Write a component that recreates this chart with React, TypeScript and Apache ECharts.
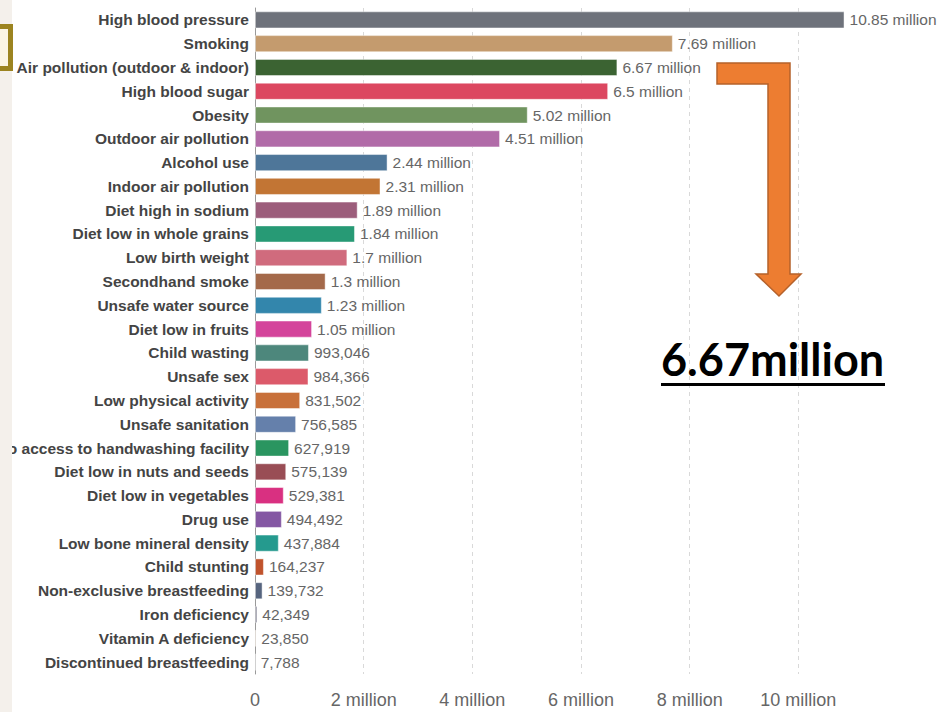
import React, { useEffect, useRef } from "react";
import * as echarts from "echarts";

const categories = [
  "High blood pressure",
  "Smoking",
  "Air pollution (outdoor & indoor)",
  "High blood sugar",
  "Obesity",
  "Outdoor air pollution",
  "Alcohol use",
  "Indoor air pollution",
  "Diet high in sodium",
  "Diet low in whole grains",
  "Low birth weight",
  "Secondhand smoke",
  "Unsafe water source",
  "Diet low in fruits",
  "Child wasting",
  "Unsafe sex",
  "Low physical activity",
  "Unsafe sanitation",
  "No access to handwashing facility",
  "Diet low in nuts and seeds",
  "Diet low in vegetables",
  "Drug use",
  "Low bone mineral density",
  "Child stunting",
  "Non-exclusive breastfeeding",
  "Iron deficiency",
  "Vitamin A deficiency",
  "Discontinued breastfeeding",
];

const deaths = [
  10850000, 7690000, 6670000, 6500000, 5020000, 4510000, 2440000, 2310000,
  1890000, 1840000, 1700000, 1300000, 1230000, 1050000, 993046, 984366,
  831502, 756585, 627919, 575139, 529381, 494492, 437884, 164237, 139732,
  42349, 23850, 7788,
];

const barColors = [
  "#6e727b", "#c49b6e", "#3b6332", "#dc4760", "#70945f", "#b16ba8",
  "#4e7699", "#c27534", "#9c5d7b", "#279a75", "#d06b7d", "#a4694a",
  "#3386ac", "#d4449b", "#4d877c", "#dc5a6a", "#c8703a", "#6580ab",
  "#2a9560", "#994d55", "#d93081", "#8457a3", "#259a8e", "#c0532c",
  "#56647e", "#6c6c80", "#c8a070", "#8a9a90",
];

const xTicks = [0, 2000000, 4000000, 6000000, 8000000, 10000000];

const annotationText = "6.67million";

const FONT = "'Liberation Sans', Arial, sans-serif";

function fmtValue(v: number): string {
  if (v >= 1000000) return `${+(v / 1000000).toFixed(2)} million`;
  return v.toLocaleString("en-US");
}

export default function App() {
  const ref = useRef<HTMLDivElement>(null);
  useEffect(() => {
    document.body.style.margin = "0";
    const chart = echarts.init(ref.current!, undefined, { renderer: "svg" });
    chart.setOption({
      animation: false,
      backgroundColor: "#ffffff",
      grid: {
        left: 255,
        right: 36,
        top: 8,
        bottom: 38,
        containLabel: false,
        outerBoundsMode: "none",
      },
      xAxis: {
        type: "value",
        min: 0,
        max: 12000000,
        interval: 2000000,
        axisLine: { show: false },
        axisTick: { show: false },
        splitLine: {
          show: true,
          showMinLine: false,
          showMaxLine: false,
          lineStyle: { color: "#d9d9d9", type: [4, 4], width: 1 },
        },
        axisLabel: {
          showMaxLabel: false,
          margin: 17,
          color: "#666666",
          fontFamily: FONT,
          fontSize: 18,
          formatter: (v: number) =>
            xTicks.indexOf(v) < 0 ? "" : v === 0 ? "0" : `${v / 1000000} million`,
        },
      },
      yAxis: {
        type: "category",
        inverse: true,
        data: categories,
        axisLine: { show: true, lineStyle: { color: "#9a9a9a", width: 1 } },
        axisTick: { show: false },
        axisLabel: {
          interval: 0,
          margin: 6,
          color: "#444444",
          fontWeight: "bold",
          fontFamily: FONT,
          fontSize: 15.5,
        },
      },
      series: [
        {
          type: "bar",
          barCategoryGap: "28%",
          data: deaths.map((v, i) => ({
            value: v,
            itemStyle: { color: barColors[i] },
          })),
          itemStyle: { borderColor: "rgba(255,255,255,0.45)", borderWidth: 1 },
          label: {
            show: true,
            position: "right",
            distance: 5,
            color: "#666666",
            fontFamily: FONT,
            fontSize: 15.5,
            formatter: (p: any) => fmtValue(p.value),
          },
        },
      ],
      graphic: [
        {
          type: "rect",
          z: 100,
          shape: { x: 0, y: 0, width: 12, height: 712 },
          style: { fill: "#f4f0eb" },
        },
        {
          type: "rect",
          z: 101,
          shape: { x: 0, y: 24, width: 13, height: 47 },
          style: { fill: "#9c8420" },
        },
        {
          type: "rect",
          z: 102,
          shape: { x: 0, y: 29, width: 8, height: 37 },
          style: { fill: "#fbf5e4" },
        },
        {
          type: "polygon",
          z: 100,
          shape: {
            points: [
              [717, 63], [790, 63], [790, 274], [801, 274], [779, 296],
              [756, 274], [768, 274], [768, 84], [717, 84],
            ],
          },
          style: { fill: "#ed7d31", stroke: "#b5612a", lineWidth: 1.5 },
        },
        {
          type: "text",
          z: 100,
          left: 661,
          top: 336,
          style: {
            text: annotationText,
            fill: "#000000",
            font: "bold 45px Lato, 'Open Sans', sans-serif",
          },
        },
        {
          type: "rect",
          z: 100,
          shape: { x: 661, y: 383, width: 224, height: 3 },
          style: { fill: "#000000" },
        },
      ],
    });
    return () => chart.dispose();
  }, []);
  return <div ref={ref} style={{ width: 943, height: 712 }} />;
}
